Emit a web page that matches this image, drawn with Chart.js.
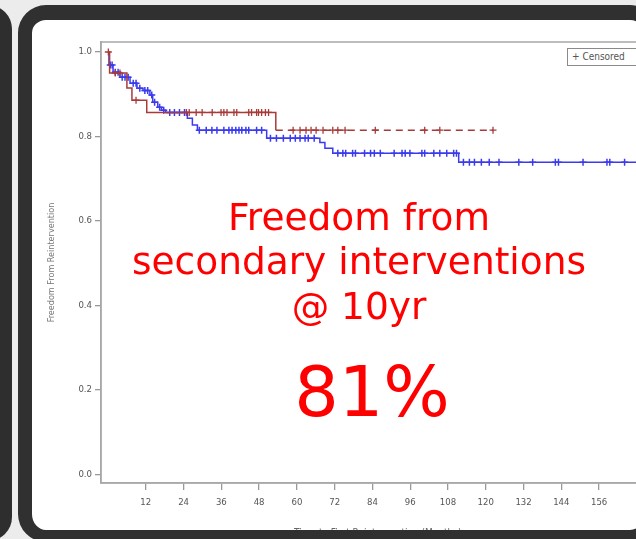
<!DOCTYPE html>
<html>
<head>
<meta charset="utf-8">
<script src="https://cdn.jsdelivr.net/npm/chart.js@4.4.1/dist/chart.umd.min.js"></script>
<style>
  html, body { margin: 0; padding: 0; }
  body { width: 636px; height: 539px; overflow: hidden; background: #ececec; position: relative; }
  #leftPanel { position: absolute; left: -60px; top: 5px; width: 72px; height: 536px; background: #2e2e2e; border-radius: 24px; }
  #frame {
    position: absolute; left: 18px; top: 5px; width: 640px; height: 537px;
    box-sizing: border-box; border-style: solid; border-color: #303030;
    border-width: 15px 14px 12px 14px; border-radius: 28px;
    background: #fff; overflow: hidden;
  }
  #page { position: absolute; left: -32px; top: -20px; width: 700px; height: 560px; }
  #chartBox { position: absolute; left: 0; top: 0; width: 660px; height: 539px; }
  .big { position: absolute; left: 0; width: 718px; text-align: center; color: #ff0000;
         font-family: "DejaVu Sans", sans-serif; white-space: nowrap; }
  .line1 { font-size: 37.5px; line-height: 37.5px; }
  .pct { font-size: 70px; line-height: 70px; left: 13px; }
  #legend { position: absolute; left: 567px; top: 48px; width: 90px; height: 18px; box-sizing: border-box;
            border: 1px solid #8a8a8a; font: 10px "DejaVu Sans Condensed", "Liberation Sans Narrow", sans-serif;
            color: #555; line-height: 16px; padding-left: 4px; background: #fff; }
</style>
</head>
<body>
<div id="leftPanel"></div>
<div id="frame">
  <div id="page">
    <div id="chartBox"><canvas id="km"></canvas></div>
    <div class="big line1" style="top:199px">Freedom from</div>
    <div class="big line1" style="top:243px">secondary interventions</div>
    <div class="big line1" style="top:288px">@ 10yr</div>
    <div class="big pct" style="top:357px">81%</div>
    <div id="legend">+ Censored</div>
  </div>
</div>
<script>
// tick labels
const xTicks = [12, 24, 36, 48, 60, 72, 84, 96, 108, 120, 132, 144, 156];
const yTicks = [0, 0.2, 0.4, 0.6, 0.8, 1.0];

// blue group: step times (months) and survival after each step
const blueTimes = [0, 0.3, 1.6, 3.8, 7.0, 9.2, 11.1, 13.3, 14.2, 15.8, 17.0, 18.3, 25.2, 26.8, 28.4, 50.4, 67.3, 68.9, 71.4, 111.4, 174];
const blueSurv  = [1.0, 0.969, 0.952, 0.940, 0.926, 0.914, 0.909, 0.898, 0.881, 0.869, 0.862, 0.857, 0.843, 0.827, 0.815, 0.796, 0.786, 0.772, 0.760, 0.739, 0.739];
const blueCensor = [0.7, 1.3, 2.3, 3.2, 4.5, 5.4, 6.4, 8.0, 8.9, 10.1, 11.7, 12.6, 13.9, 14.8, 16.4, 17.7, 19.6, 21.1, 22.7, 24.3,
  29.0, 31.2, 33.0, 34.6, 36.8, 38.4, 39.4, 40.6, 41.6, 42.5, 43.8, 44.7, 47.2, 48.8,
  51.6, 53.5, 55.7, 57.9, 59.5, 61.0, 62.6, 63.6, 65.5,
  73.0, 74.6, 75.5, 77.7, 78.6, 81.5, 83.4, 84.6, 86.5, 90.9, 93.4, 94.4, 95.9, 99.7, 100.6, 103.5, 105.4, 107.6, 109.8, 110.7,
  112.9, 114.8, 116.4, 118.6, 121.1, 124.2, 130.5, 134.9, 142.1, 143.1, 150.9, 158.5, 159.4, 164.1];

// red group
const redTimes = [0, 0.5, 6.0, 7.6, 12.3, 53.3, 122.3];
const redSurv  = [1.0, 0.950, 0.915, 0.886, 0.857, 0.815, 0.815];
const redCensor = [0.1, 2.3, 3.8, 8.9, 24.9, 25.8, 28.0, 29.9, 33.1, 35.9, 36.8, 37.8, 40.0, 40.9, 44.7, 45.6, 47.2, 47.8, 48.8, 50.0, 51.0,
  58.8, 61.0, 62.9, 64.5, 66.1, 68.3, 71.4, 73.0, 75.3, 84.9, 100.6, 105.4, 122.3];

const BLUE = '#3a3aee';
const RED = '#a83a3a';
const FONT = '"DejaVu Sans Condensed", "Liberation Sans Narrow", sans-serif';

function survAt(times, surv, t) {
    let s = surv[0];
    for (let i = 0; i < times.length; i++) {
        if (times[i] <= t) s = surv[i];
    }
    return s;
}

const frameBox = {
    id: 'frameBox',
    beforeDatasetsDraw(chart) {
        const a = chart.chartArea, ctx = chart.ctx;
        ctx.save();
        ctx.strokeStyle = '#a8a8a8';
        ctx.lineWidth = 1.5;
        ctx.strokeRect(a.left, a.top, a.right - a.left, a.bottom - a.top);
        ctx.restore();
    }
};

new Chart(document.getElementById('km').getContext('2d'), {
    type: 'line',
    data: {
        datasets: [
            {
                label: 'red',
                data: redTimes.map((t, i) => ({x: t, y: redSurv[i]})),
                borderColor: RED,
                borderWidth: 1.5,
                stepped: true,
                pointRadius: 0,
                segment: {
                    borderDash: ctx => ctx.p0.parsed.x >= 53 ? [7, 5] : undefined
                }
            },
            {
                label: 'redCensor',
                type: 'scatter',
                data: redCensor.map(t => ({x: t, y: survAt(redTimes, redSurv, t)})),
                pointStyle: 'cross',
                pointRadius: 3.5,
                borderWidth: 1.3,
                borderColor: RED,
                showLine: false
            },
            {
                label: 'blue',
                data: blueTimes.map((t, i) => ({x: t, y: blueSurv[i]})),
                borderColor: BLUE,
                borderWidth: 1.5,
                stepped: true,
                pointRadius: 0
            },
            {
                label: 'blueCensor',
                type: 'scatter',
                data: blueCensor.map(t => ({x: t, y: survAt(blueTimes, blueSurv, t)})),
                pointStyle: 'cross',
                pointRadius: 3.5,
                borderWidth: 1.5,
                borderColor: BLUE,
                showLine: false
            }
        ]
    },
    options: {
        responsive: true,
        maintainAspectRatio: false,
        animation: false,
        layout: { padding: { left: 44, top: 42, right: 0, bottom: 0 } },
        plugins: { legend: { display: false }, tooltip: { enabled: false } },
        scales: {
            x: {
                type: 'linear',
                min: -2.23,
                max: 173.6,
                afterBuildTicks: s => { s.ticks = xTicks.map(v => ({value: v})); },
                afterFit: s => { s.height = 56; },
                grid: { drawOnChartArea: false, tickLength: 7, color: '#999', lineWidth: 1.3 },
                border: { color: '#a8a8a8', width: 1.5 },
                ticks: { color: '#555', font: { size: 9.5, family: FONT }, padding: 7, maxRotation: 0, autoSkip: false,
                         callback: v => String(v) },
                title: { display: true, text: 'Time to First Reintervention (Months)', color: '#666',
                         font: { size: 10, family: FONT }, padding: 0 }
            },
            y: {
                min: -0.0206,
                max: 1.0237,
                afterBuildTicks: s => { s.ticks = yTicks.map(v => ({value: v})); },
                afterFit: s => { s.width = 57; },
                grid: { drawOnChartArea: false, tickLength: 6, color: '#999', lineWidth: 1.3 },
                border: { color: '#a8a8a8', width: 1.5 },
                ticks: { color: '#555', font: { size: 9.5, family: FONT }, padding: 3,
                         callback: v => v.toFixed(1) },
                title: { display: true, text: 'Freedom From Reintervention', color: '#777',
                         font: { size: 9, family: FONT }, padding: 2 }
            }
        }
    },
    plugins: [frameBox]
});
</script>
</body>
</html>
